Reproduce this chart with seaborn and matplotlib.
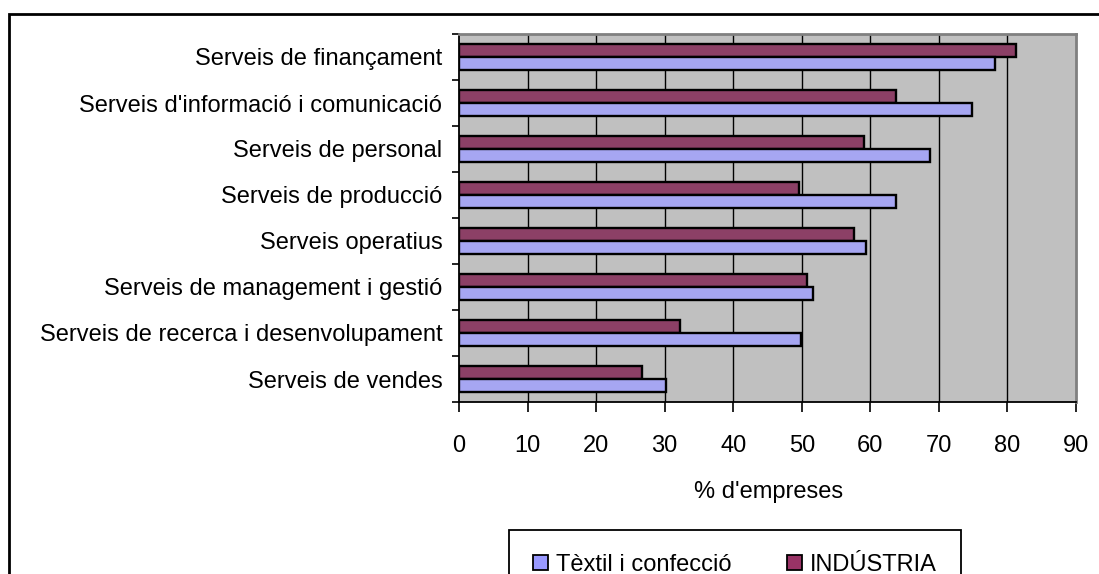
import pandas as pd
import seaborn as sns
import matplotlib.pyplot as plt
from matplotlib.patches import Patch, Rectangle
from matplotlib.ticker import FixedLocator

# Chart data, top to bottom
serveis = [
    'Serveis de finançament',
    "Serveis d'informació i comunicació",
    'Serveis de personal',
    'Serveis de producció',
    'Serveis operatius',
    'Serveis de management i gestió',
    'Serveis de recerca i desenvolupament',
    'Serveis de vendes',
]
textil = [78.2, 74.9, 68.7, 63.8, 59.3, 51.7, 49.9, 30.2]
industria = [81.2, 63.7, 59.1, 49.6, 57.6, 50.8, 32.2, 26.7]
x_ticks = [0, 10, 20, 30, 40, 50, 60, 70, 80, 90]

grup_textil = 'Tèxtil i confecció'
grup_ind = 'INDÚSTRIA'
colors = {grup_textil: '#9999FF', grup_ind: '#993366'}

df = pd.DataFrame({
    'servei': serveis * 2,
    'pct': textil + industria,
    'grup': [grup_textil] * len(serveis) + [grup_ind] * len(serveis),
})

sns.set_theme(style='white')
plt.rcParams['font.family'] = ['Liberation Sans', 'DejaVu Sans']
plt.rcParams['font.size'] = 17
for k in ['text.color', 'axes.labelcolor', 'xtick.color', 'ytick.color']:
    plt.rcParams[k] = 'black'

W, H = 1099, 574
fig = plt.figure(figsize=(W / 100, H / 100), dpi=100)
ax = fig.add_axes([459 / W, 1 - 402 / H, (1076 - 459) / W, (402 - 34) / H])
ax.set_facecolor('#C0C0C0')

sns.barplot(data=df, y='servei', x='pct', hue='grup', order=serveis,
            hue_order=[grup_ind, grup_textil], palette=colors, orient='h',
            width=0.57, edgecolor='black', linewidth=1.7, legend=False, ax=ax)

ax.set_xlim(0, 90)
ax.set_ylim(len(serveis) - 0.5, -0.5)

# vertical gridlines
ax.xaxis.set_major_locator(FixedLocator(x_ticks))
for v in x_ticks[1:-1]:
    ax.axvline(v, color='black', linewidth=1.0, zorder=0.5)

# spines: black left/bottom, grey top/right
for s in ['left', 'bottom']:
    ax.spines[s].set_color('black')
    ax.spines[s].set_linewidth(1.3)
for s in ['top', 'right']:
    ax.spines[s].set_color('#808080')
    ax.spines[s].set_linewidth(2.0)

# ticks
ax.tick_params(axis='x', direction='out', length=7, width=1.2, color='black',
               pad=17, labelsize=17, bottom=True)
ax.set_yticks(range(len(serveis)))
ax.set_yticklabels(serveis)
ax.tick_params(axis='y', which='major', length=0, pad=12, labelsize=17, left=True)
ax.yaxis.set_minor_locator(FixedLocator([i - 0.5 for i in range(len(serveis) + 1)]))
ax.tick_params(axis='y', which='minor', direction='out', length=5, width=1.2,
               color='black', left=True)

ax.set_ylabel('')
ax.set_xlabel("% d'empreses", fontsize=17, va='center')
ax.xaxis.set_label_coords(0.502, (402 - 492) / (402 - 34))

# legend (Tèxtil first)
handles = [Patch(facecolor=colors[grup_textil], edgecolor='black', linewidth=1.3),
           Patch(facecolor=colors[grup_ind], edgecolor='black', linewidth=1.3)]
leg = fig.legend(handles, [grup_textil, grup_ind], loc='upper left',
                 bbox_to_anchor=(509 / W, 1 - 530 / H), bbox_transform=fig.transFigure,
                 ncol=2, frameon=True, fancybox=False, framealpha=1, edgecolor='black',
                 fontsize=17, handlelength=0.64, handleheight=0.64, handletextpad=0.34,
                 columnspacing=2.37, borderpad=1.0, borderaxespad=0)
leg.get_frame().set_linewidth(1.3)

# outer chart border (cut at right and bottom)
fig.patches.append(Rectangle((9 / W, -0.2), 2.0, 1 - 14 / H + 0.2,
                             transform=fig.transFigure, fill=False,
                             edgecolor='black', linewidth=2.0))

fig.savefig('out.png', dpi=100)
